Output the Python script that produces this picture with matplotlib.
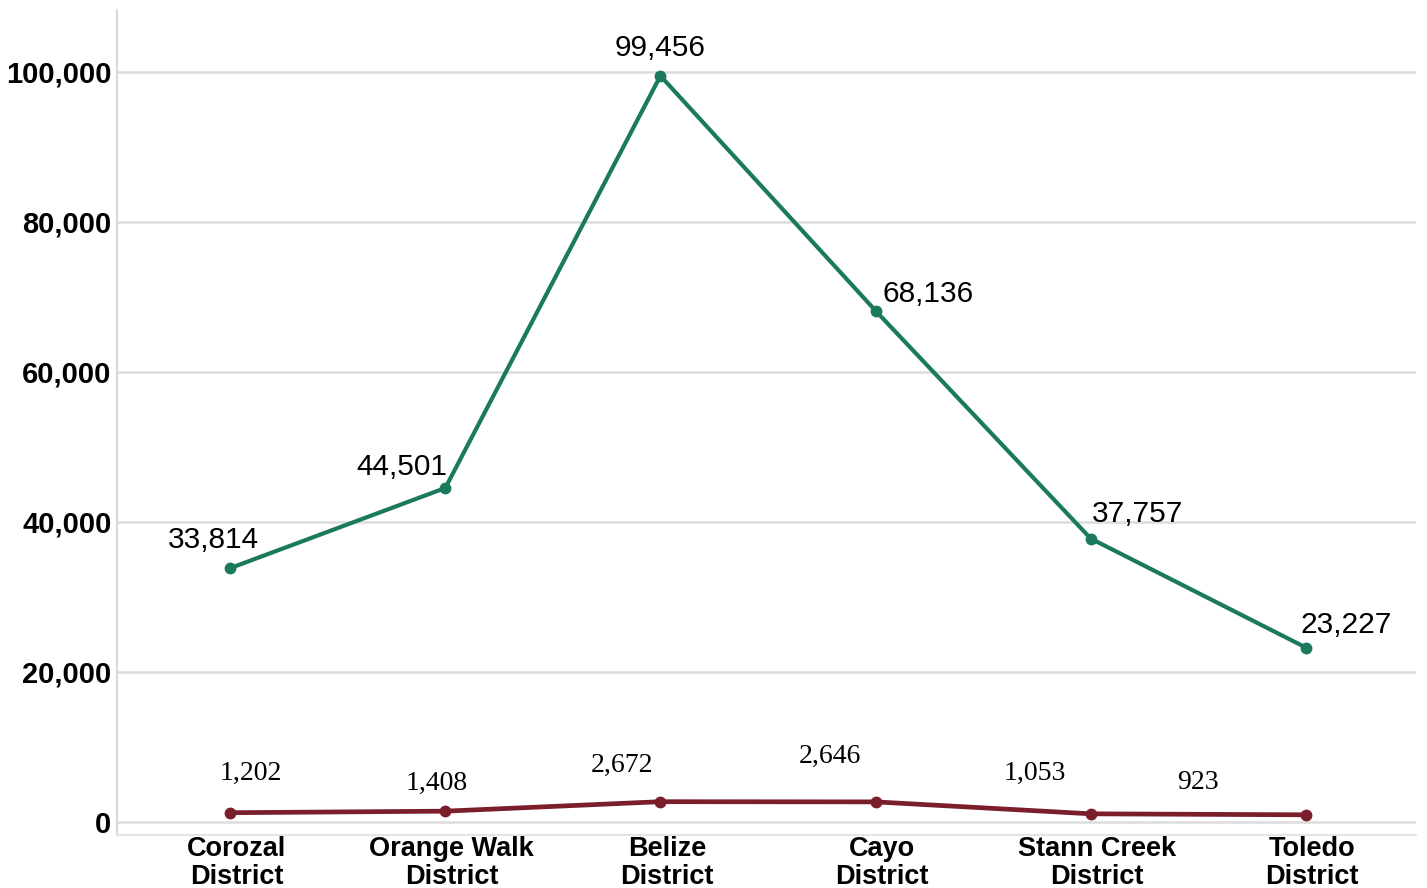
import matplotlib.pyplot as plt
from matplotlib.ticker import FuncFormatter

# District totals
districts = ["Corozal\nDistrict", "Orange Walk\nDistrict", "Belize\nDistrict",
             "Cayo\nDistrict", "Stann Creek\nDistrict", "Toledo\nDistrict"]
upper_values = [33814, 44501, 99456, 68136, 37757, 23227]
lower_values = [1202, 1408, 2672, 2646, 1053, 923]

# label offsets in points (dx, dy) from each marker
upper_offsets = [(-12, 20), (-31, 15), (0, 20), (38, 12), (34, 18), (29, 16)]
lower_offsets = [(15, 28), (-6, 20), (-28, 26), (-33, 33), (-40, 29), (-78, 23)]

green = "#1b7a5e"
red = "#7a1e2b"

fig = plt.figure(figsize=(14.27, 8.88), dpi=100)
ax = fig.add_axes([0.082, 0.060, 0.910, 0.929])

x = list(range(len(districts)))
ax.plot(x, upper_values, color=green, lw=3.0, marker="o", ms=7.5, zorder=3)
ax.plot(x, lower_values, color=red, lw=3.4, marker="o", ms=7.5, zorder=3)

for xi, v, (dx, dy) in zip(x, upper_values, upper_offsets):
    ax.annotate(f"{v:,}", (xi, v), xytext=(dx, dy), textcoords="offset points",
                ha="center", va="center", fontsize=21.5, family="Liberation Sans",
                color="black")
for xi, v, (dx, dy) in zip(x, lower_values, lower_offsets):
    ax.annotate(f"{v:,}", (xi, v), xytext=(dx, dy), textcoords="offset points",
                ha="center", va="center", fontsize=20, family="Liberation Serif",
                color="black")

ax.set_xlim(-0.526, 5.51)
ax.set_ylim(-1733, 108267)
ax.set_yticks([0, 20000, 40000, 60000, 80000, 100000])
ax.yaxis.set_major_formatter(FuncFormatter(lambda v, p: f"{int(v):,}"))
# category labels sit a little right of the markers
ax.set_xticks([xi + 0.03 for xi in x])
ax.set_xticklabels(districts, linespacing=1.08)

for lbl in ax.get_yticklabels():
    lbl.set_fontfamily("Liberation Sans")
    lbl.set_fontweight("bold")
    lbl.set_fontsize(21)
for lbl in ax.get_xticklabels():
    lbl.set_fontfamily("Liberation Sans")
    lbl.set_fontweight("bold")
    lbl.set_fontsize(19.5)

ax.tick_params(axis="both", length=0)
ax.tick_params(axis="y", pad=4)
ax.tick_params(axis="x", pad=1)

ax.grid(axis="y", color="#dcdcdc", lw=1.8)
ax.set_axisbelow(True)
for side in ["top", "right"]:
    ax.spines[side].set_visible(False)
ax.spines["left"].set_color("#d8d8d8")
ax.spines["left"].set_linewidth(1.5)
ax.spines["bottom"].set_color("#e4e4e4")
ax.spines["bottom"].set_linewidth(1.5)

fig.savefig("out.png", dpi=100)
